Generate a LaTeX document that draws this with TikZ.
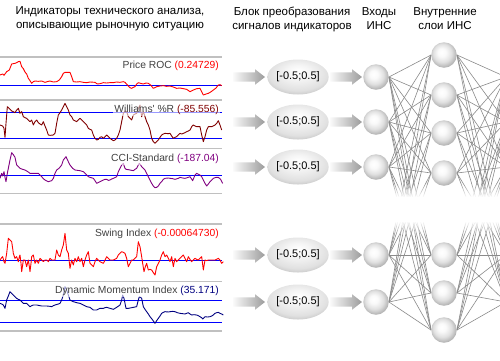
\documentclass[tikz,border=0pt]{standalone}
\usepackage{fontspec}
\setmainfont{Liberation Sans}
\newfontfamily\lblfont{Liberation Sans}
\usetikzlibrary{shapes.geometric,fadings}
\definecolor{gridgray}{HTML}{C0C0C0}
\definecolor{lblgray}{HTML}{404040}
\definecolor{roc}{HTML}{FF0000}
\definecolor{wil}{HTML}{800000}
\definecolor{cci}{HTML}{800080}
\definecolor{dmi}{HTML}{000080}
\definecolor{netgray}{HTML}{8A8A8A}
\pgfdeclareradialshading{spheresh}{\pgfpoint{-5bp}{6bp}}{color(0bp)=(white); color(8bp)=(white!98!black); color(18bp)=(white!88!black); color(27bp)=(white!70!black); color(50bp)=(white!70!black)}
\pgfdeclareradialshading{ellsh}{\pgfpoint{0bp}{9bp}}{color(0bp)=(white); color(10bp)=(white!96!black); color(24bp)=(white!88!black); color(34bp)=(white!72!black); color(50bp)=(white!72!black)}
\pgfdeclarelayer{bg}
\pgfsetlayers{bg,main}
\tikzset{
  hdr/.style={font=\lblfont\fontsize{11.5}{14}\selectfont, align=center, text=black, inner sep=0pt},
  lbl/.style={font=\lblfont\fontsize{10.3}{12}\selectfont, text=lblgray, anchor=east, inner sep=1pt, fill=white, fill opacity=0.6, text opacity=1},
  gridline/.style={gridgray, line width=1.3pt},
  blueline/.style={blue, line width=0.95pt},
  curve/.style={line width=0.9pt, line join=round},
  convnode/.style={ellipse, minimum width=57, minimum height=35, inner sep=0pt, shade, shading=ellsh, font=\lblfont\fontsize{11}{12}\selectfont},
  neuron/.style={circle, minimum size=25.5, inner sep=0pt, shade, shading=spheresh},
  link/.style={netgray, line width=0.6pt},
  blockarr/.pic={\shade[left color=gray!4, right color=gray!78] (-16,-4.7) -- (6,-4.7) -- (6,-7.8) -- (16,0) -- (6,7.8) -- (6,4.7) -- (-16,4.7) -- cycle;}
}
\begin{document}
\begin{tikzpicture}[x=1pt,y=-1pt]
\useasboundingbox (0,0) rectangle (500,360);
% headers
\node[hdr] (hind) at (110,19) {Индикаторы технического анализа,\\описывающие рыночную ситуацию};
\node[hdr] (hblk) at (292,19) {Блок преобразования\\сигналов индикаторов};
\node[hdr] (hinp) at (379,19) {Входы\\ИНС};
\node[hdr] (hhid) at (445,19) {Внутренние\\слои ИНС};
% panel grid lines
\foreach \yy in {57,100,148.5,193.3,224,281.3,331}
  \draw[gridline] (0,\yy) -- (222,\yy);
% blue reference lines
\foreach \yy in {85,112,138.3,175,260.3,300.3,322.3}
  \draw[blueline] (0,\yy) -- (222,\yy);
% curves
\begin{scope}[shift={(0,50)},scale=1/3]
\draw[curve,roc] (0,75)--(8,72)--(12,76)--(20,65)--(28,60)--(35,42)--(45,40)--(50,38)--(55,35)--(60,34)--(65,50)--(70,56)--(75,66)--(80,72)--(85,85)--(90,92)--(95,100)--(100,95)--(105,93)--(115,94)--(125,93)--(135,97)--(145,94)--(150,93)--(160,96)--(170,95)--(178,90)--(185,80)--(190,70)--(195,67)--(210,67)--(215,80)--(220,95)--(230,96)--(240,95)--(250,97)--(260,98)--(270,96)--(285,97)--(292,102)--(300,101)--(310,98)--(320,99)--(330,98)--(340,98)--(350,96)--(360,97)--(370,95)--(375,97)--(385,108)--(390,113)--(395,115)--(400,112)--(405,110)--(410,102)--(415,98)--(422,100)--(430,102)--(438,99)--(445,100)--(452,105)--(460,115)--(470,110)--(480,108)--(490,107)--(500,109)--(510,108)--(520,111)--(530,115)--(540,114)--(550,116)--(560,118)--(570,125)--(580,120)--(590,116)--(600,115)--(605,125)--(610,135)--(618,132)--(625,130)--(632,126)--(640,120)--(648,114)--(655,105)--(660,104)--(665,107);
\draw[curve,wil] (0,225)--(8,228)--(12,235)--(15,262)--(18,220)--(22,170)--(27,175)--(30,178)--(35,183)--(40,185)--(45,188)--(50,180)--(55,175)--(60,190)--(65,185)--(70,200)--(75,203)--(80,205)--(85,210)--(90,215)--(95,210)--(100,225)--(105,215)--(110,210)--(115,218)--(120,222)--(125,225)--(130,215)--(135,228)--(140,240)--(145,255)--(150,256)--(160,255)--(165,250)--(170,220)--(175,195)--(180,188)--(185,180)--(190,170)--(195,160)--(200,170)--(205,180)--(210,195)--(215,200)--(220,210)--(230,215)--(240,205)--(245,210)--(250,215)--(260,225)--(265,235)--(270,238)--(275,240)--(280,255)--(285,265)--(290,270)--(295,268)--(300,262)--(305,260)--(310,265)--(315,260)--(320,255)--(325,260)--(330,265)--(340,272)--(345,270)--(350,265)--(355,255)--(360,240)--(365,215)--(370,190)--(375,183)--(380,185)--(385,200)--(390,205)--(395,210)--(400,195)--(405,192)--(410,190)--(415,175)--(420,165)--(425,200)--(430,185)--(435,200)--(440,215)--(445,225)--(450,240)--(455,265)--(460,275)--(465,280)--(470,275)--(475,270)--(480,262)--(485,255)--(490,252)--(495,250)--(505,251)--(510,250)--(515,258)--(520,265)--(525,262)--(530,260)--(535,255)--(540,250)--(545,252)--(550,250)--(555,248)--(560,245)--(565,243)--(570,240)--(575,230)--(580,225)--(585,228)--(590,230)--(600,230)--(605,255)--(610,275)--(615,260)--(620,240)--(625,230)--(635,230)--(645,225)--(650,220)--(655,212)--(660,225)--(665,240);
\end{scope}
\begin{scope}[shift={(0,140)},scale=1/3]
\draw[curve,cci] (0,115)--(5,100)--(8,108)--(12,95)--(15,112)--(18,125)--(22,100)--(26,80)--(30,60)--(35,38)--(40,44)--(45,52)--(50,75)--(55,80)--(60,85)--(68,88)--(75,90)--(85,96)--(90,100)--(100,100)--(115,100)--(120,105)--(125,110)--(130,116)--(135,120)--(145,125)--(155,122)--(160,115)--(165,100)--(170,90)--(178,84)--(185,75)--(190,60)--(198,50)--(205,65)--(210,75)--(218,85)--(225,90)--(232,91)--(240,92)--(250,95)--(260,105)--(265,110)--(270,112)--(280,115)--(285,122)--(290,130)--(300,125)--(310,120)--(315,118)--(320,118)--(325,121)--(330,120)--(335,117)--(340,115)--(350,110)--(355,95)--(360,85)--(365,75)--(370,70)--(375,85)--(378,88)--(385,89)--(390,90)--(395,91)--(400,92)--(405,88)--(410,85)--(415,75)--(418,70)--(422,75)--(425,80)--(430,85)--(435,90)--(440,100)--(445,110)--(450,120)--(455,130)--(460,138)--(465,143)--(470,142)--(475,138)--(480,130)--(485,125)--(490,118)--(495,115)--(505,114)--(510,115)--(518,116)--(525,118)--(535,115)--(540,112)--(548,114)--(555,115)--(562,113)--(570,110)--(578,122)--(585,105)--(590,100)--(600,105)--(605,110)--(610,120)--(615,130)--(620,138)--(625,132)--(630,125)--(635,120)--(640,115)--(648,112)--(655,112)--(662,118)--(668,130);
\end{scope}
\begin{scope}[shift={(0,220)},scale=1/3]
\draw[curve,roc] (0,120)--(5,113)--(8,110)--(12,125)--(15,130)--(20,100)--(25,55)--(30,60)--(35,65)--(38,85)--(40,100)--(45,115)--(50,110)--(55,125)--(58,110)--(60,105)--(63,130)--(65,155)--(68,135)--(70,120)--(75,120)--(80,140)--(85,120)--(88,140)--(90,155)--(93,130)--(95,110)--(100,105)--(105,130)--(110,120)--(115,130)--(120,115)--(125,120)--(130,125)--(135,120)--(140,120)--(145,125)--(150,115)--(155,120)--(165,120)--(170,90)--(175,105)--(180,110)--(185,90)--(190,75)--(195,40)--(200,90)--(205,100)--(210,145)--(215,120)--(220,135)--(225,115)--(230,125)--(235,110)--(240,125)--(245,115)--(250,140)--(255,120)--(260,105)--(265,95)--(270,130)--(275,135)--(280,140)--(285,125)--(290,115)--(300,125)--(310,130)--(315,120)--(320,110)--(325,115)--(330,120)--(340,120)--(350,115)--(355,105)--(360,100)--(365,95)--(370,97)--(375,100)--(380,115)--(385,140)--(390,130)--(395,120)--(400,120)--(405,115)--(410,110)--(415,65)--(420,80)--(425,110)--(428,130)--(432,155)--(436,140)--(440,130)--(445,150)--(450,148)--(455,150)--(460,158)--(465,165)--(470,140)--(475,130)--(480,120)--(485,105)--(490,95)--(495,110)--(500,105)--(505,115)--(510,125)--(515,110)--(520,140)--(525,115)--(530,125)--(535,120)--(540,115)--(545,110)--(550,105)--(555,115)--(560,125)--(565,110)--(570,118)--(575,125)--(580,120)--(585,115)--(590,118)--(595,120)--(600,115)--(605,110)--(610,150)--(615,120)--(620,122)--(625,120)--(635,120)--(645,120)--(655,115)--(660,120)--(665,130)--(670,125);
\draw[curve,dmi] (0,250)--(5,252)--(10,255)--(15,265)--(18,250)--(20,240)--(25,228)--(30,215)--(35,220)--(40,225)--(45,230)--(50,235)--(55,238)--(60,240)--(65,245)--(70,250)--(80,250)--(85,255)--(90,260)--(95,257)--(100,255)--(110,255)--(125,258)--(140,258)--(150,259)--(155,260)--(160,257)--(165,255)--(175,252)--(180,250)--(185,240)--(190,225)--(195,200)--(200,210)--(205,225)--(210,240)--(220,245)--(230,248)--(240,250)--(250,255)--(260,260)--(270,262)--(275,266)--(280,270)--(290,270)--(300,265)--(310,265)--(315,263)--(320,262)--(330,265)--(340,268)--(350,262)--(360,255)--(365,240)--(368,225)--(372,235)--(375,250)--(378,265)--(385,265)--(395,263)--(400,262)--(410,260)--(415,240)--(418,230)--(422,232)--(425,235)--(430,260)--(435,268)--(440,275)--(445,282)--(450,290)--(455,296)--(458,300)--(465,310)--(470,302)--(475,295)--(480,288)--(485,280)--(490,277)--(495,275)--(505,276)--(510,275)--(518,274)--(525,275)--(532,278)--(540,280)--(548,281)--(555,282)--(565,278)--(570,282)--(575,285)--(582,284)--(590,285)--(595,287)--(600,290)--(605,293)--(608,297)--(612,293)--(615,290)--(622,291)--(630,290)--(635,288)--(640,285)--(645,280)--(650,278)--(655,277)--(660,280)--(665,282)--(670,285);
\end{scope}
% indicator labels
\node[lbl] (lroc) at (220,66) {Price ROC \textcolor{roc}{(0.24729)}};
\node[lbl] (lwil) at (220,110) {Williams' \%R \textcolor{wil}{(-85.556)}};
\node[lbl] (lcci) at (220,159) {CCI-Standard \textcolor{cci}{(-187.04)}};
\node[lbl] (lswi) at (220,234) {Swing Index \textcolor{roc}{(-0.00064730)}};
\node[lbl] (ldmi) at (220,291) {Dynamic Momentum Index \textcolor{dmi}{(35.171)}};
% block arrows and converters
\foreach \yy in {77,122,167,255,302} {
  \pic at (249,\yy) {blockarr};
  \pic at (346,\yy) {blockarr};
}
\node[convnode] (c1) at (298,77) {[-0.5;0.5]};
\node[convnode] (c2) at (298,122) {[-0.5;0.5]};
\node[convnode] (c3) at (298,167) {[-0.5;0.5]};
\node[convnode] (c4) at (298,255) {[-0.5;0.5]};
\node[convnode] (c5) at (298,302) {[-0.5;0.5]};
% neurons
\node[neuron] (i1) at (376,77) {};
\node[neuron] (i2) at (376,122) {};
\node[neuron] (i3) at (376,167) {};
\node[neuron] (i4) at (376,255) {};
\node[neuron] (i5) at (376,302) {};
\node[neuron] (n1) at (444,55) {};
\node[neuron] (n2) at (444,95) {};
\node[neuron] (n3) at (444,133) {};
\node[neuron] (n4) at (444,173) {};
\node[neuron] (n5) at (444,255) {};
\node[neuron] (n6) at (444,293) {};
\node[neuron] (n7) at (444,330) {};
\coordinate (o1) at (506,77);
\coordinate (o2) at (506,122);
\coordinate (o3) at (506,167);
\coordinate (o4) at (506,255);
\coordinate (o5) at (506,302);
\begin{pgfonlayer}{bg}
\begin{scope}
\clip (0,0) rectangle (500,360);
\foreach \a in {1,...,5}
  \foreach \b in {1,...,7} {
    \draw[link] (i\a.east) -- (n\b.west);
    \draw[link] (n\b.east) -- (o\a);
  }
\fill[white, path fading=north] (387,183) rectangle (500,197);
\fill[white] (387,196.5) rectangle (500,221.5);
\fill[white, path fading=south] (387,221) rectangle (500,235);
\end{scope}
\end{pgfonlayer}
\end{tikzpicture}
\end{document}
